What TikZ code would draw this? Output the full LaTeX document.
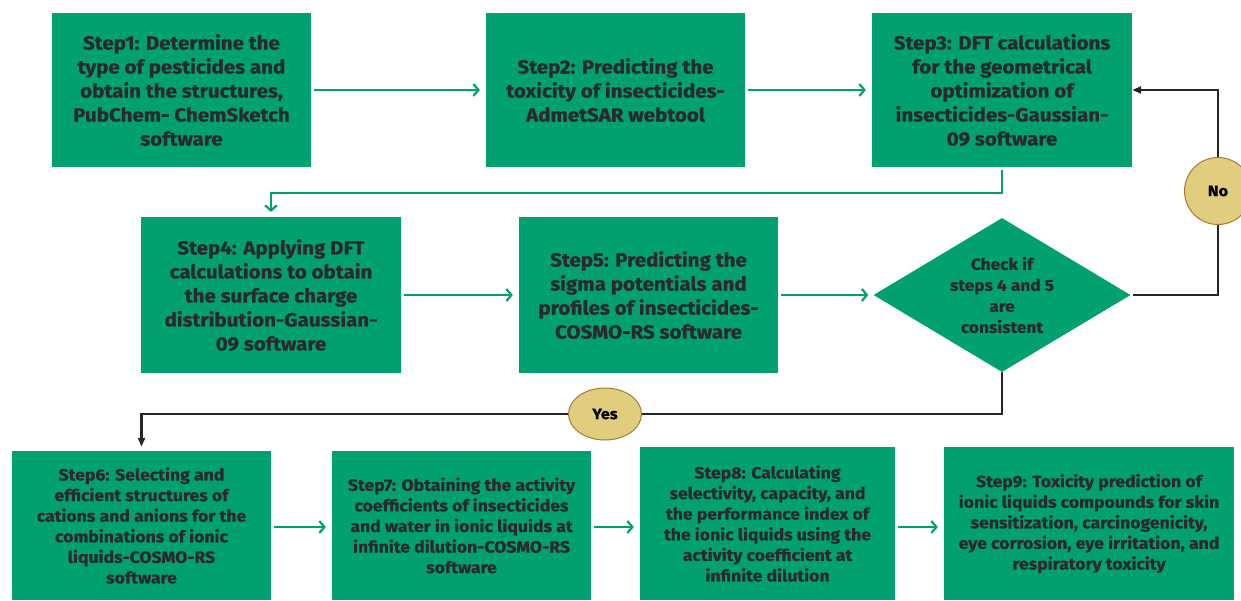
\documentclass[tikz,border=0pt]{standalone}
\usepackage{fontspec}
\setmainfont{Fira Sans}[BoldFeatures={FakeStretch=1.08,FakeBold=0.8}]
\usetikzlibrary{arrows.meta,shapes.geometric}
\definecolor{boxgreen}{HTML}{00A070}
\definecolor{txt}{HTML}{2A2A2A}
\definecolor{tagfill}{HTML}{E0CD7E}
\definecolor{tagedge}{HTML}{A57A35}
\begin{document}
\begin{tikzpicture}[x=1pt,y=-1pt,
  box/.style={fill=boxgreen, draw=none, minimum width=259pt, minimum height=154pt, inner sep=0pt, align=center, text=txt, font=\bfseries\fontsize{19}{24}\selectfont},
  sbox/.style={box, font=\bfseries\fontsize{16.3}{20.6}\selectfont, minimum height=149pt},
  garrow/.style={draw=boxgreen, line width=2.2pt, -{Straight Barb[length=5pt,width=12pt]}},
  barrow/.style={draw=black!85, line width=2.2pt, -{Triangle[length=9pt,width=7pt]}},
  bline/.style={draw=black!85, line width=2.2pt},
  tag/.style={fill=tagfill, draw=tagedge, line width=1pt, text=black, inner sep=0pt, font=\bfseries\fontsize{15}{17}\selectfont}]
\useasboundingbox (0,0) rectangle (1241,600);
\clip (0,0) rectangle (1241,600);
% top row
\node[box] (s1) at (181.5,90) {Step1: Determine the\\type of pesticides and\\obtain the structures,\\PubChem- ChemSketch\\software};
\node[box] (s2) at (615.5,90) {Step2: Predicting the\\toxicity of insecticides-\\AdmetSAR webtool};
\node[box, minimum width=260pt] (s3) at (1002,90) {Step3: DFT calculations\\for the geometrical\\optimization of\\insecticides-Gaussian-\\09 software};
% middle row
\node[box, minimum width=260pt, minimum height=156pt] (s4) at (271,295) {Step4: Applying DFT\\calculations to obtain\\the surface charge\\distribution-Gaussian-\\09 software};
\node[box, minimum height=156pt] (s5) at (648.5,295) {Step5: Predicting the\\sigma potentials and\\profiles of insecticides-\\COSMO-RS software};
\node[diamond, fill=boxgreen, minimum width=257pt, minimum height=154pt, aspect=1.67, inner sep=0pt, align=center, text=txt, font=\bfseries\fontsize{16}{21}\selectfont] (chk) at (1002,295) {Check if\\steps 4 and 5\\are\\consistent};
% bottom row
\node[sbox] (s6) at (141.5,525.5) {Step6: Selecting and\\efficient structures of\\cations and anions for the\\combinations of ionic\\liquids-COSMO-RS\\software};
\node[sbox] (s7) at (461.5,525.5) {Step7: Obtaining the activity\\coefficients of insecticides\\and water in ionic liquids at\\infinite dilution-COSMO-RS\\software};
\node[sbox, minimum width=255pt, minimum height=153pt] (s8) at (767.5,523.5) {Step8: Calculating\\selectivity, capacity, and\\the performance index of\\the ionic liquids using the\\activity coefficient at\\infinite dilution};
\node[sbox, minimum width=290pt, minimum height=153pt] (s9) at (1089,523.5) {Step9: Toxicity prediction of\\ionic liquids compounds for skin\\sensitization, carcinogenicity,\\eye corrosion, eye irritation, and\\respiratory toxicity};
% tags
\node[tag, circle, minimum size=67pt] (no) at (1218,191) {No};
\node[tag, ellipse, minimum width=73pt, minimum height=52pt] (yes) at (605,414) {Yes};
% connectors
\draw[garrow, shorten <=3pt, shorten >=6pt] (s1) -- (s2);
\draw[garrow, shorten <=3pt, shorten >=6pt] (s2) -- (s3);
\draw[garrow, shorten <=3pt, shorten >=5pt] (s3.south) -- ++(0,26) -| (s4.north);
\draw[garrow, shorten <=3pt, shorten >=6pt] (s4) -- (s5);
\draw[garrow, shorten <=3pt, shorten >=5pt] (s5) -- (chk);
\draw[bline, shorten <=2pt] (chk.east) -| (no.south);
\draw[barrow] (no.north) |- (s3.east);
\draw[bline] (chk.south) |- (yes.east);
\draw[barrow, shorten >=4pt] (yes.west) -| (s6.north);
\draw[garrow, shorten <=3pt, shorten >=6pt] (s6.east |- 0,527) -- (s7.west |- 0,527);
\draw[garrow, shorten <=3pt, shorten >=6pt] (s7.east |- 0,527) -- (s8.west |- 0,527);
\draw[garrow, shorten <=3pt, shorten >=6pt] (s8.east |- 0,527) -- (s9.west |- 0,527);
\end{tikzpicture}
\end{document}
